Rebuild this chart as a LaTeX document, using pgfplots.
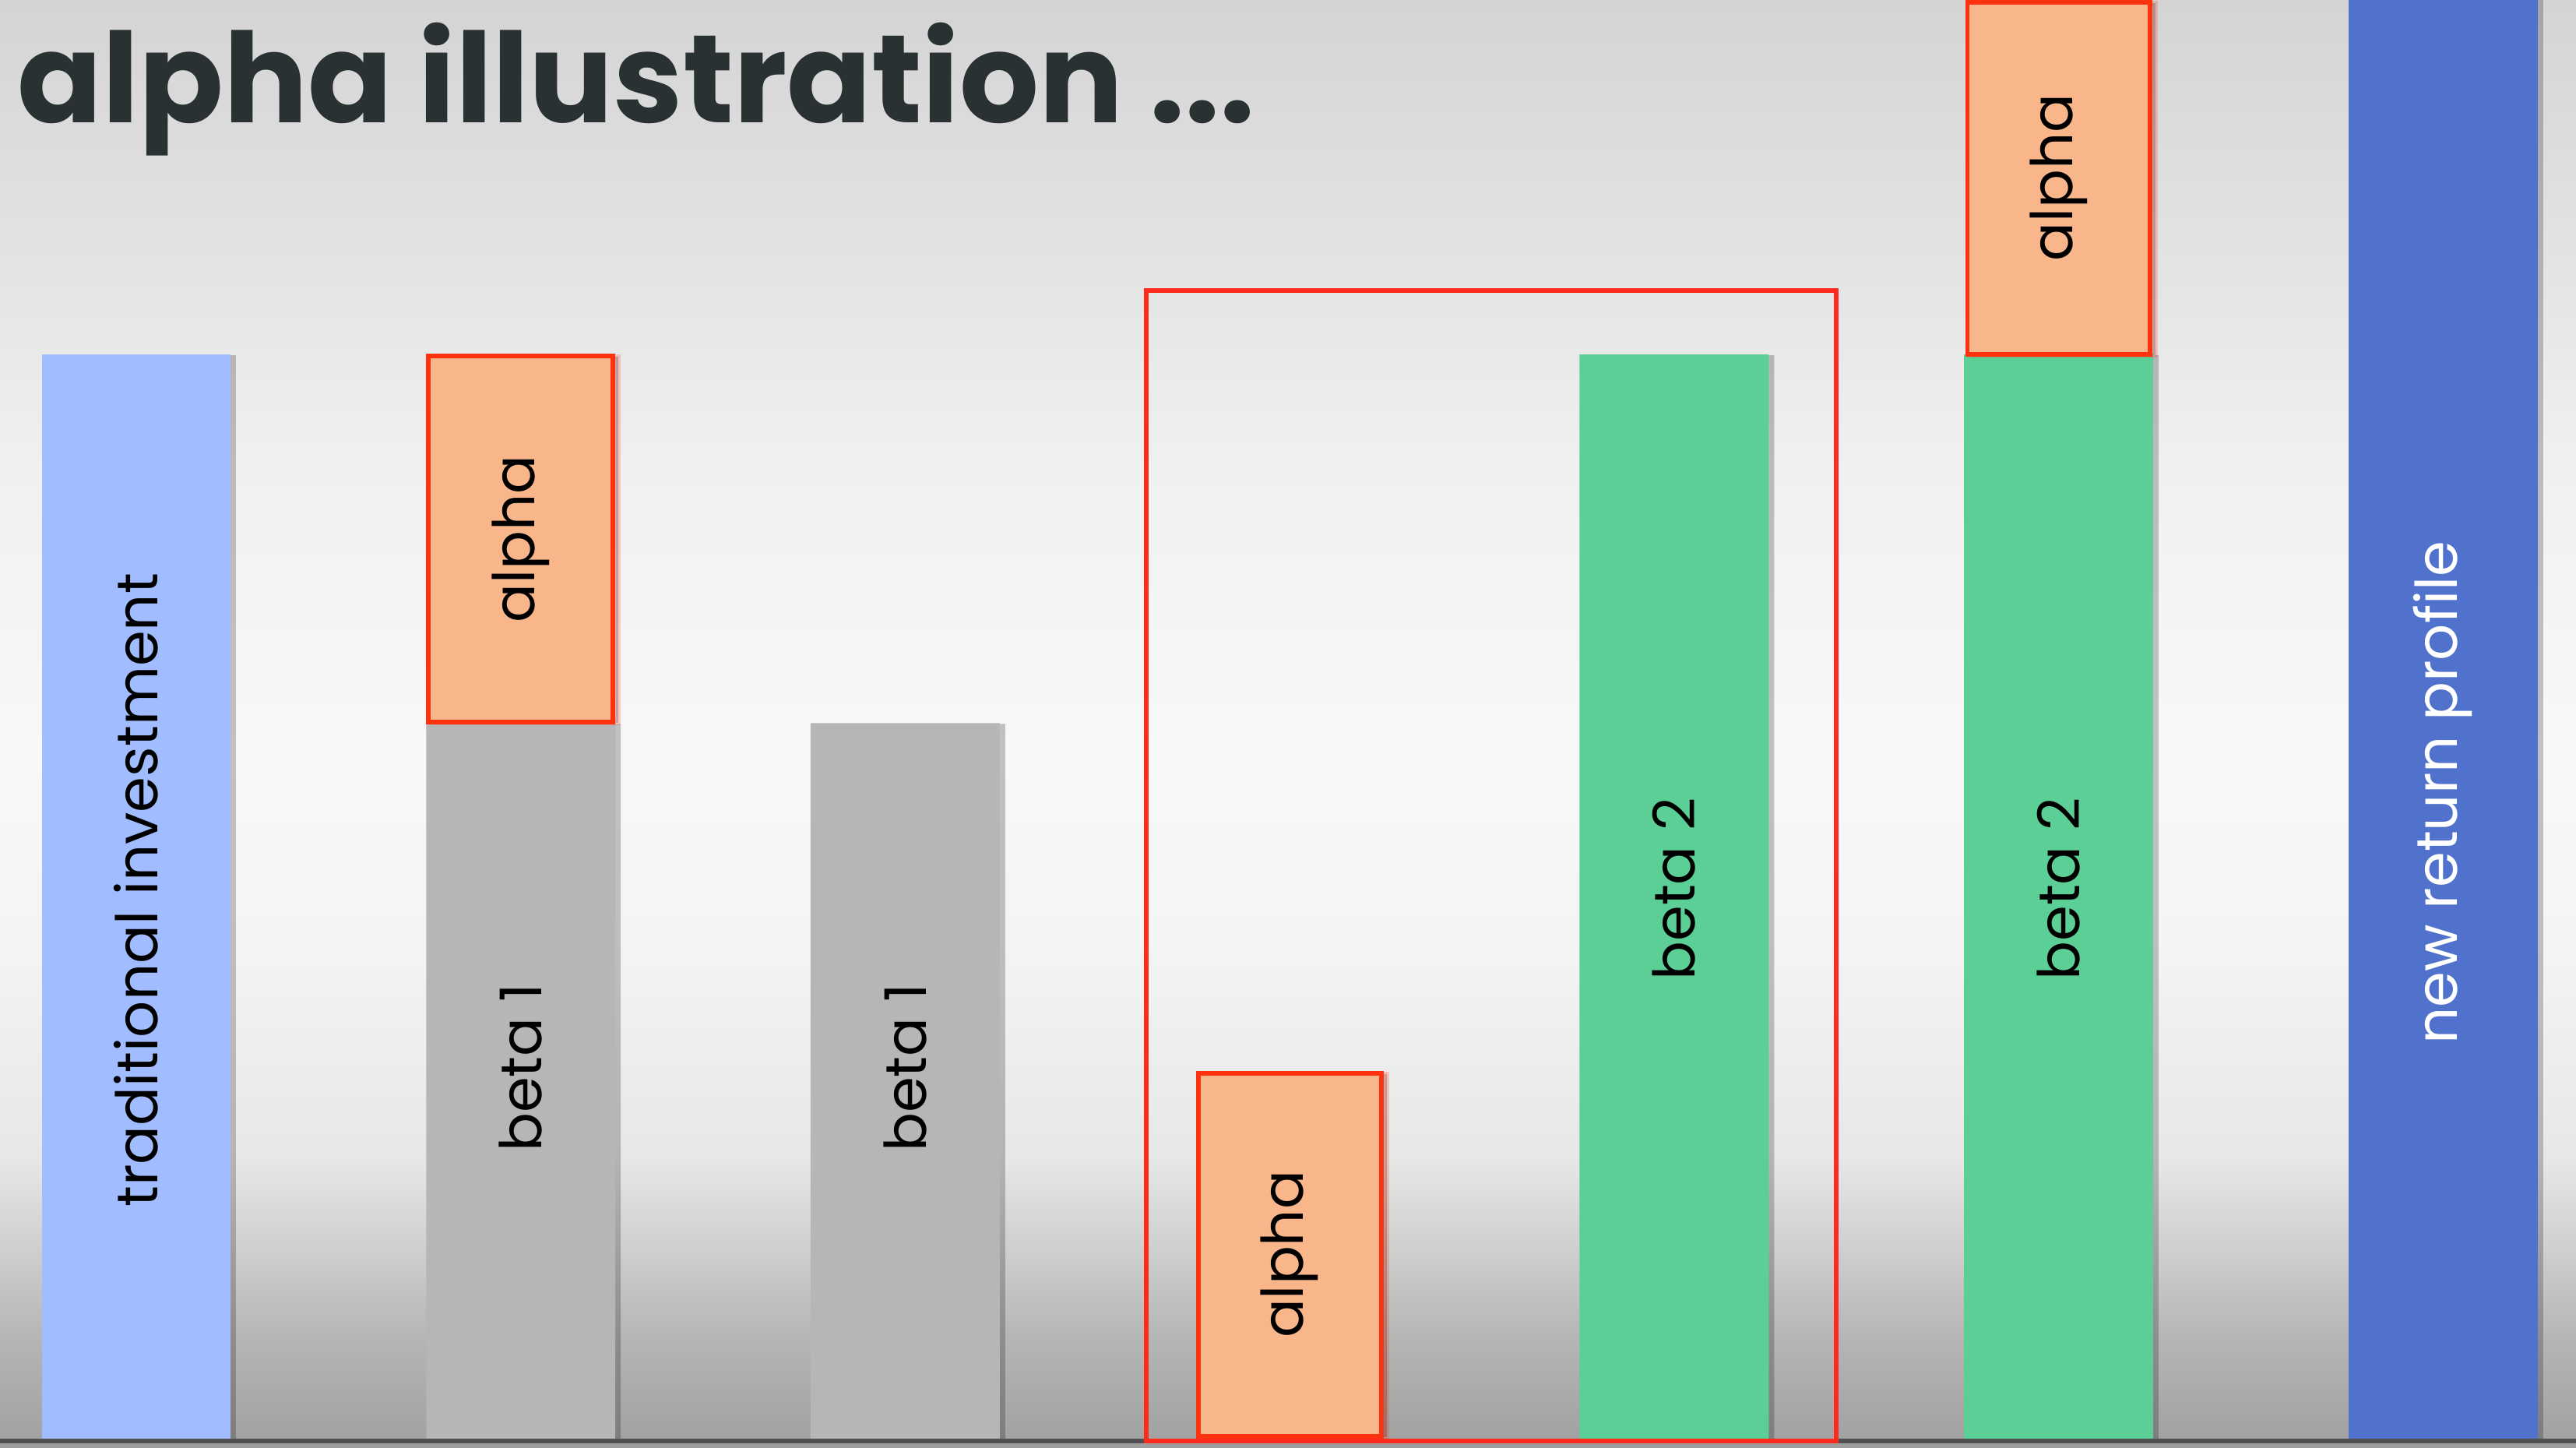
\documentclass[border=0pt]{standalone}
\usepackage{fontspec}
\setmainfont{Poppins}
\usepackage{pgfplots}
\pgfplotsset{compat=1.18}
\usetikzlibrary{shadows}
\definecolor{bg0}{HTML}{9E9E9E}
\definecolor{bg1}{HTML}{A3A3A3}
\definecolor{bg2}{HTML}{B5B5B5}
\definecolor{bg3}{HTML}{D0D0D0}
\definecolor{bg4}{HTML}{E7E7E7}
\definecolor{bg5}{HTML}{F4F4F4}
\definecolor{bg6}{HTML}{F8F8F8}
\definecolor{bg7}{HTML}{F0F0F0}
\definecolor{bg8}{HTML}{E4E4E4}
\definecolor{bg9}{HTML}{D4D4D4}
\definecolor{lblue}{HTML}{A1BCFF}
\definecolor{gbar}{HTML}{B6B6B6}
\definecolor{gbeta}{HTML}{5CCF96}
\definecolor{dblue}{HTML}{5072CD}
\definecolor{oalpha}{HTML}{F9B68B}
\definecolor{ralpha}{HTML}{FF3210}
\definecolor{rrect}{HTML}{FF2A1E}
\definecolor{basegray}{HTML}{505050}
\definecolor{titlec}{HTML}{293133}
\pgfdeclareverticalshading{bgsh}{100bp}{color(0bp)=(bg0); color(25bp)=(bg0); color(25.5bp)=(bg1); color(28.75bp)=(bg2); color(32bp)=(bg3); color(35bp)=(bg4); color(42.5bp)=(bg5); color(49bp)=(bg6); color(59bp)=(bg7); color(65.5bp)=(bg8); color(75bp)=(bg9); color(100bp)=(bg9)}
\tikzset{lbl/.style={rotate=90, anchor=center, font=\fontsize{10.5}{12}\selectfont},
  bsh/.style={drop shadow={shadow xshift=0.035cm, shadow yshift=-0.005cm, opacity=0.22, fill=black}}}
\begin{document}
\begin{tikzpicture}
\begin{axis}[
  width=16.54cm, height=9.295cm, scale only axis,
  xmin=-0.3545, xmax=6.346, ymin=-0.086, ymax=13.27,
  axis lines=none, ticks=none,
  axis background/.style={shading=bgsh},
  clip=true,
]
% base segments
\addplot[ybar, bar width=0.492, bar shift=0pt, fill=lblue, draw=none, bsh] coordinates {(0,10)};
\addplot[ybar, bar width=0.492, bar shift=0pt, fill=gbar, draw=none, bsh] coordinates {(1,6.6) (2,6.6)};
\addplot[ybar, bar width=0.492, bar shift=0pt, fill=gbeta, draw=none, bsh] coordinates {(4,10) (5,10)};
\addplot[ybar, bar width=0.492, bar shift=0pt, fill=dblue, draw=none, bsh] coordinates {(6,14)};
% alpha segments
\addplot[fill=oalpha, draw=ralpha, line width=0.85pt, bsh] coordinates {(0.760,6.61) (1.240,6.61) (1.240,9.99) (0.760,9.99)} -- cycle;
\addplot[fill=oalpha, draw=ralpha, line width=0.85pt, bsh] coordinates {(2.762,0.02) (3.238,0.02) (3.238,3.37) (2.762,3.37)} -- cycle;
\addplot[fill=oalpha, draw=ralpha, line width=0.85pt, bsh] coordinates {(4.763,10) (5.237,10) (5.237,13.25) (4.763,13.25)} -- cycle;
% baseline
\addplot[draw=basegray, line width=0.85pt] coordinates {(-0.4,-0.0216) (6.4,-0.0216)};
% red frame
\addplot[draw=rrect, line width=0.8pt] coordinates {(2.627,-0.022) (2.627,10.589) (4.422,10.589) (4.422,-0.022)} -- cycle;
% labels
\node[lbl] at (axis cs:0,5.06) {traditional investment};
\node[lbl] at (axis cs:1,8.3) {alpha};
\node[lbl] at (axis cs:1,3.42) {beta 1};
\node[lbl] at (axis cs:2,3.42) {beta 1};
\node[lbl] at (axis cs:3,1.7) {alpha};
\node[lbl] at (axis cs:4,5.07) {beta 2};
\node[lbl] at (axis cs:5,5.07) {beta 2};
\node[lbl] at (axis cs:5,11.63) {alpha};
\node[lbl, text=white] at (axis cs:6,5.96) {new return profile};
% title
\node[anchor=base west, inner sep=0pt, text=titlec, font=\fontsize{22.8}{27}\selectfont\bfseries] at (rel axis cs:0.0063,0.9155) {alpha illustration ...};
\end{axis}
\end{tikzpicture}
\end{document}
